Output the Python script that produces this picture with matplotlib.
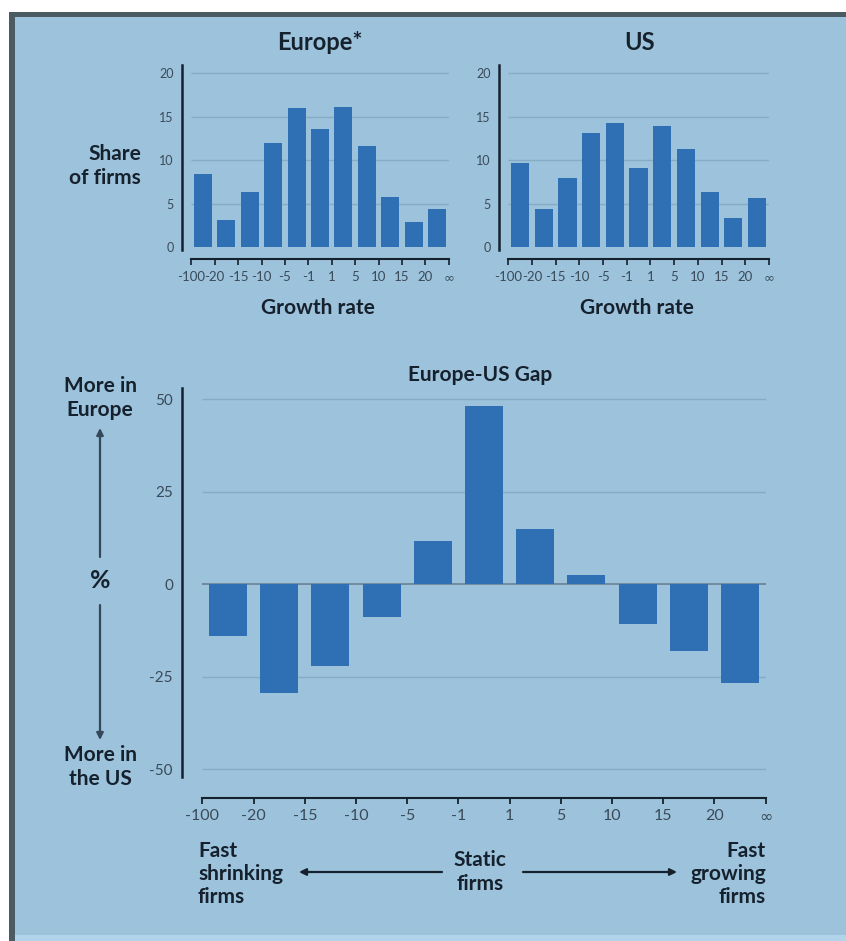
import matplotlib
matplotlib.use("Agg")
import matplotlib.pyplot as plt
from matplotlib.patches import Rectangle
import numpy as np

# growth-rate bucket edges and share of firms in each bucket (%)
edges = ["-100", "-20", "-15", "-10", "-5", "-1", "1", "5", "10", "15", "20", "\u221e"]
europe_share = [8.4, 3.1, 6.4, 12.0, 16.0, 13.6, 16.1, 11.7, 5.8, 2.9, 4.4]
us_share = [9.7, 4.4, 8.0, 13.1, 14.3, 9.1, 13.9, 11.3, 6.3, 3.4, 5.7]
# Europe-US gap per bucket (%)
gap = [-14.0, -29.3, -22.2, -8.8, 11.7, 48.2, 15.0, 2.5, -10.8, -18.0, -26.6]

share_ticks = [0, 5, 10, 15, 20]
gap_ticks = [-50, -25, 0, 25, 50]

PANEL = "#9dc2db"
STRIP = "#b2d4ea"
BORDER = "#4a5b64"
BAR = "#2f6fb4"
GRID = "#86abc5"
ZERO = "#6e8798"
INK = "#16212e"
TICK = "#3a4a58"

plt.rcParams["font.family"] = ["Lato", "DejaVu Sans"]
plt.rcParams["axes.unicode_minus"] = False

W, H = 846, 941
fig = plt.figure(figsize=(W / 100, H / 100), dpi=100)
fig.patch.set_facecolor("white")


def box(l, t, r, b):
    return [l / W, 1 - b / H, (r - l) / W, (b - t) / H]


def edge_labels(ax):
    ax.set_xticks(np.arange(len(edges)) - 0.5)
    ax.set_xticklabels(edges)
    # Lato's infinity sign is tiny, use DejaVu's for the open-ended bucket
    ax.get_xticklabels()[-1].set_family("DejaVu Sans")


# background panel, drawn in pixel units
bg = fig.add_axes([0, 0, 1, 1], zorder=0)
bg.set_xlim(0, W)
bg.set_ylim(H, 0)
bg.axis("off")
bg.add_patch(Rectangle((9, 12), W - 9, 923, color=PANEL, lw=0))
bg.add_patch(Rectangle((9, 935), W - 9, 6, color=STRIP, lw=0))
bg.add_patch(Rectangle((9, 12), W - 9, 5, color=BORDER, lw=0))
bg.add_patch(Rectangle((9, 12), 6, H - 12, color=BORDER, lw=0))


def share_panel(rect, values):
    ax = fig.add_axes(box(*rect), zorder=2)
    ax.set_facecolor("none")
    n = len(values)
    x = np.arange(n)
    ax.hlines(share_ticks[1:], -0.5, n - 0.5, color=GRID, lw=1, zorder=0)
    ax.bar(x, values, width=0.77, color=BAR, zorder=2)
    ax.set_xlim(-0.5, n - 0.5)
    ax.set_ylim(-0.3, 21)
    ax.set_yticks(share_ticks)
    for s in ["top", "right"]:
        ax.spines[s].set_visible(False)
    ax.spines["left"].set_position(("outward", 6.5))
    ax.spines["bottom"].set_position(("outward", 6.5))
    ax.spines["left"].set_linewidth(1.8)
    ax.spines["bottom"].set_linewidth(1.5)
    ax.spines["left"].set_color(INK)
    ax.spines["bottom"].set_color(INK)
    ax.tick_params(axis="y", length=0, pad=6, labelsize=9, labelcolor=TICK)
    ax.tick_params(axis="x", length=4, width=1.2, pad=4.5, labelsize=9.5,
                   color=INK, labelcolor=TICK)
    edge_labels(ax)
    return ax


share_panel((191.3, 64.6, 448.7, 249.9), europe_share)
share_panel((508.2, 64.6, 768.9, 249.9), us_share)

# gap chart
ax = fig.add_axes(box(202.4, 388, 765.6, 777), zorder=2)
ax.set_facecolor("none")
xg = np.arange(len(gap))
ax.hlines([t for t in gap_ticks if t != 0], -0.5, len(gap) - 0.5, color=GRID, lw=1, zorder=0)
ax.axhline(0, color=ZERO, lw=1.3, zorder=1)
ax.bar(xg, gap, width=0.74, color=BAR, zorder=2)
ax.set_xlim(-0.5, len(gap) - 0.5)
ax.set_ylim(-52.1, 53.05)
ax.set_yticks(gap_ticks)
for s in ["top", "right"]:
    ax.spines[s].set_visible(False)
ax.spines["left"].set_position(("outward", 14.7))
ax.spines["bottom"].set_position(("outward", 14.9))
ax.spines["left"].set_linewidth(1.8)
ax.spines["bottom"].set_linewidth(1.5)
ax.spines["left"].set_color(INK)
ax.spines["bottom"].set_color(INK)
ax.tick_params(axis="y", length=0, pad=6.5, labelsize=11, labelcolor=TICK)
ax.tick_params(axis="x", length=4.5, width=1.3, pad=4, labelsize=11.5,
               color=INK, labelcolor=TICK)
edge_labels(ax)

# titles and labels
bold = dict(fontweight="bold", color=INK, va="center")
ls = 1.2
bg.text(320, 42, "Europe*", ha="center", fontsize=17, **bold)
bg.text(640, 42, "US", ha="center", fontsize=17, **bold)
bg.text(141, 166, "Share\nof firms", ha="right", multialignment="right",
        fontsize=15, linespacing=ls, **bold)
bg.text(318, 308, "Growth rate", ha="center", fontsize=15, **bold)
bg.text(637, 308, "Growth rate", ha="center", fontsize=15, **bold)
bg.text(480, 375, "Europe-US Gap", ha="center", fontsize=15, **bold)

bg.text(100, 398, "More in\nEurope", ha="center", fontsize=15, linespacing=ls, **bold)
bg.text(100, 580, "%", ha="center", fontsize=18, **bold)
bg.text(100, 767, "More in\nthe US", ha="center", fontsize=15, linespacing=ls, **bold)

bg.text(198, 874, "Fast\nshrinking\nfirms", ha="left", multialignment="left",
        fontsize=15, linespacing=ls, **bold)
bg.text(480, 872, "Static\nfirms", ha="center", fontsize=15, linespacing=ls, **bold)
bg.text(766, 874, "Fast\ngrowing\nfirms", ha="right", multialignment="right",
        fontsize=15, linespacing=ls, **bold)

arrow = dict(arrowstyle="-|>", color=INK, lw=1.6, mutation_scale=10,
             shrinkA=0, shrinkB=0)
bg.annotate("", xy=(299, 872), xytext=(442, 872), arrowprops=arrow)
bg.annotate("", xy=(677, 872), xytext=(523, 872), arrowprops=arrow)
side = dict(arrow, color="#33495a", lw=1.6)
bg.annotate("", xy=(100, 428), xytext=(100, 557), arrowprops=side)
bg.annotate("", xy=(100, 740), xytext=(100, 605), arrowprops=side)

fig.savefig("out.png", dpi=100, facecolor=fig.get_facecolor())
